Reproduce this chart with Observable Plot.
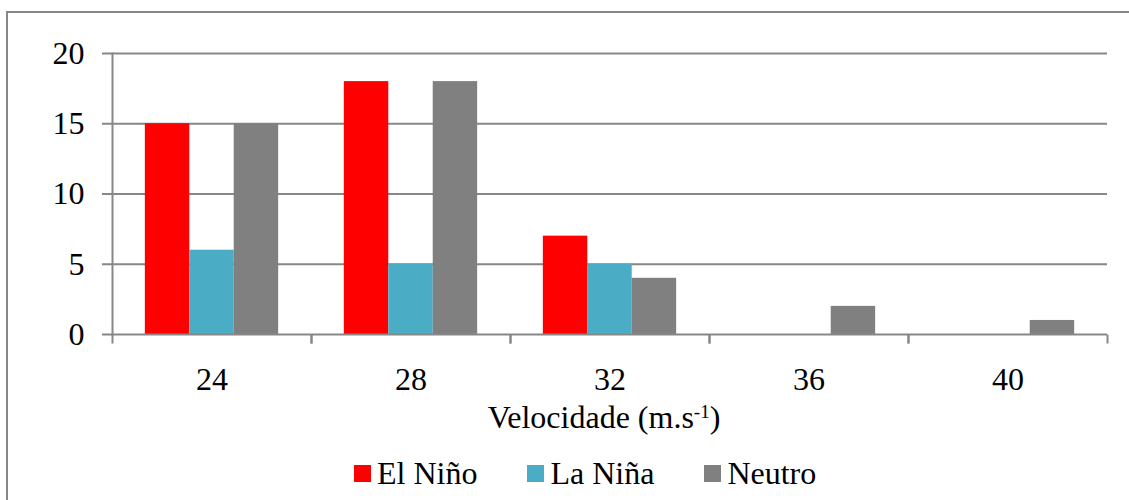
<!DOCTYPE html>
<html>
<head>
<meta charset="utf-8">
<script src="https://cdn.jsdelivr.net/npm/d3@7"></script>
<script src="https://cdn.jsdelivr.net/npm/@observablehq/plot@0.6"></script>
<style>
  html, body { margin: 0; padding: 0; background: #fff; }
  body { width: 1129px; height: 500px; position: relative; overflow: hidden;
         font-family: "Liberation Serif", "Times New Roman", serif; color: #000; }
  #border { position: absolute; left: 6px; top: 11px; width: 1200px; height: 600px;
            border-left: 2px solid #878787; border-top: 2px solid #878787; }
  #chart { position: absolute; left: 0; top: 0; }
  #xlabel { position: absolute; top: 401px; left: 604px; transform: translateX(-50%);
            font-size: 32px; line-height: 32px; white-space: nowrap; }
  #xlabel .sup { font-size: 19px; position: relative; top: -10px; }
  #legend { position: absolute; left: 354px; top: 457px; display: flex; align-items: center;
            font-size: 32px; line-height: 32px; white-space: nowrap; }
  #legend .item { display: flex; align-items: center; margin-right: 50px; }
  #legend .sw { width: 17px; height: 17px; margin-right: 6px; }
</style>
</head>
<body>
<div id="border"></div>
<div id="chart"></div>
<div id="xlabel">Velocidade (m.s<span class="sup">-1</span>)</div>
<div id="legend"></div>
<script>
const velocities = ["24", "28", "32", "36", "40"];
const series = ["El Niño", "La Niña", "Neutro"];
const elNino = [15, 18, 7, 0, 0];
const laNina = [6, 5, 5, 0, 0];
const neutro = [15, 18, 4, 2, 1];
const colors = ["#FF0000", "#4BACC6", "#808080"];
const yTicks = [0, 5, 10, 15, 20];

const seriesValues = [elNino, laNina, neutro];
const data = velocities.flatMap((v, i) =>
  series.map((s, j) => ({vel: v, series: s, value: seriesValues[j][i]}))
);

const gridColor = "#878787";
const tickSymbol = {draw(context) { context.moveTo(0, 0); context.lineTo(0, 9); }};

const plot = Plot.plot({
  width: 1129,
  height: 400,
  marginLeft: 112,
  marginRight: 22,
  marginTop: 53,
  marginBottom: 66,
  style: {fontFamily: "'Liberation Serif', 'Times New Roman', serif", color: "#000", background: "transparent", overflow: "visible"},
  fx: {domain: velocities, padding: 0, round: false},
  x: {domain: series, paddingInner: 0, paddingOuter: 0.739, round: false, axis: null},
  y: {domain: [0, 20], axis: null},
  color: {domain: series, range: colors},
  marks: [
    Plot.ruleY(yTicks.filter(d => d > 0), {y: d => d, stroke: gridColor, strokeWidth: 2, strokeOpacity: 1}),
    Plot.axisY({ticks: yTicks, tickSize: 10, tickPadding: 18, fontSize: 32, stroke: gridColor, strokeWidth: 2, strokeOpacity: 1, fill: "#000", label: null, tickFormat: d => String(d)}),
    Plot.barY(data, {fx: "vel", x: "series", y: "value", fill: "series"}),
    Plot.ruleY([0], {stroke: gridColor, strokeWidth: 2, strokeOpacity: 1}),
    Plot.frame({anchor: "left", facetAnchor: "left", stroke: gridColor, strokeWidth: 2, strokeOpacity: 1}),
    Plot.dot([0], {x: null, y: null, frameAnchor: "bottom-left", symbol: tickSymbol, stroke: gridColor, strokeWidth: 2, fill: "none"}),
    Plot.dot([0], {x: null, y: null, frameAnchor: "bottom-right", symbol: tickSymbol, stroke: gridColor, strokeWidth: 2, fill: "none"}),
    Plot.axisFx({anchor: "bottom", tickSize: 0, tickPadding: 33, fontSize: 32, fill: "#000", label: null})
  ]
});
document.getElementById("chart").append(plot);

const legend = document.getElementById("legend");
series.forEach((s, i) => {
  const item = document.createElement("div");
  item.className = "item";
  const sw = document.createElement("div");
  sw.className = "sw";
  sw.style.background = colors[i];
  const t = document.createElement("span");
  t.textContent = s;
  item.append(sw, t);
  legend.append(item);
});
</script>
</body>
</html>
